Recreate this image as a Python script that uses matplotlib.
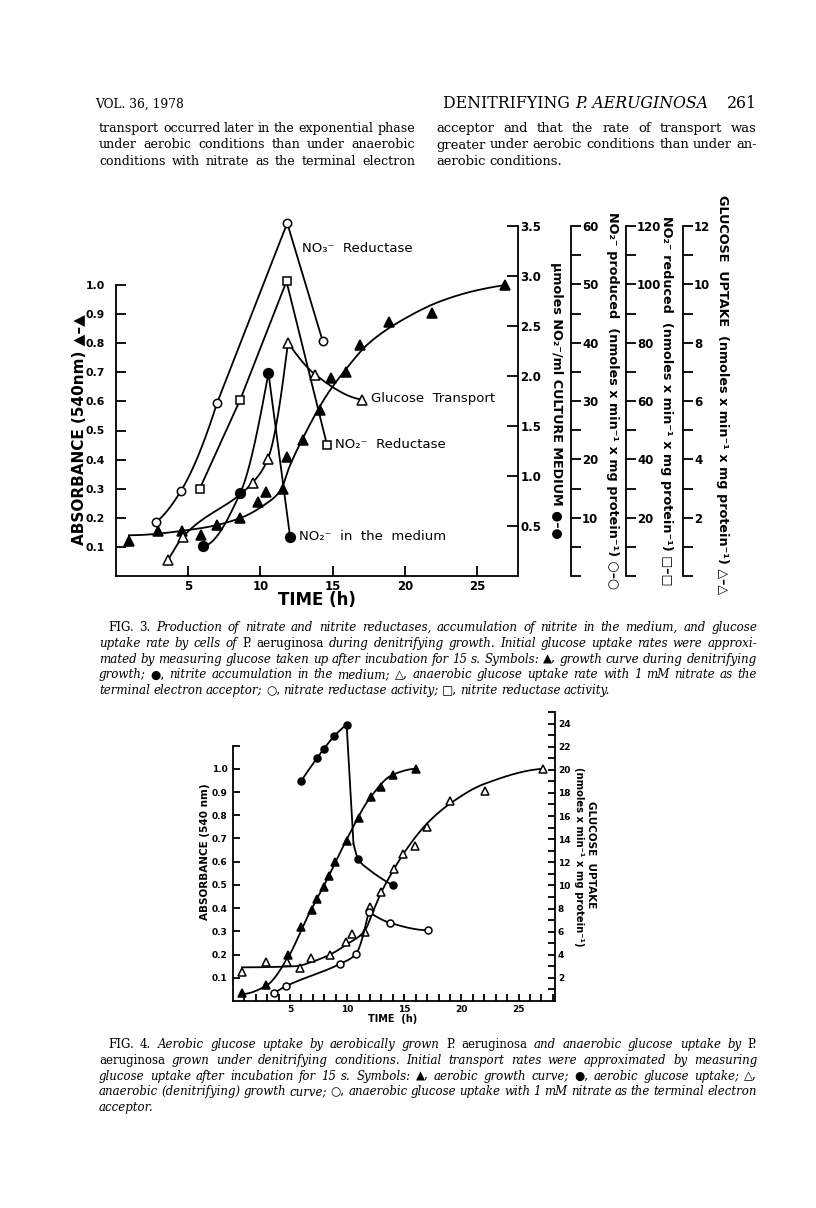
import matplotlib
matplotlib.use('Agg')
import matplotlib.pyplot as plt
import numpy as np

plt.rcParams['font.family'] = ['DejaVu Sans']

# ---------------- data: Fig. 3 ----------------
f3_growth_t = [0.9, 2.9, 4.6, 5.9, 7.0, 8.55, 9.85, 10.4, 11.55, 11.85, 12.95, 14.1, 14.9, 15.95, 16.9, 18.9, 21.9, 26.9]
f3_growth_abs = [0.12, 0.155, 0.155, 0.141, 0.175, 0.20, 0.255, 0.29, 0.30, 0.41, 0.467, 0.57, 0.68, 0.70, 0.795, 0.872, 0.905, 1.0]
f3_growth_fit_t = [0.9, 5.7, 8.5, 10.4, 11.4, 12.0, 13.15, 14.5, 15.9, 17.5, 20.0, 22.5, 25.0, 27.0]
f3_growth_fit_abs = [0.14, 0.163, 0.197, 0.249, 0.295, 0.375, 0.495, 0.615, 0.71, 0.80, 0.885, 0.945, 0.982, 1.0]

f3_no3red_t = [2.8, 4.5, 7.0, 11.85, 14.3]
f3_no3red_v = [9.3, 14.6, 29.7, 60.5, 40.3]          # nmol NO2- produced /min/mg

f3_no2red_t = [5.8, 8.6, 11.8, 14.6]
f3_no2red_v = [30.0, 60.5, 101.0, 45.0]             # nmol NO2- reduced /min/mg

f3_gluc_t = [3.6, 4.65, 9.45, 10.5, 11.9, 13.8, 17.0]
f3_gluc_v = [0.55, 1.35, 3.2, 4.0, 8.0, 6.9, 6.05]  # glucose uptake

f3_no2med_t = [6.0, 8.6, 10.55, 12.05]
f3_no2med_v = [0.30, 0.83, 2.03, 0.39]              # umol NO2-/ml

# ---------------- data: Fig. 4 ----------------
f4_aer_t = [0.8, 2.9, 4.85, 6.0, 6.9, 7.4, 8.0, 8.4, 8.95, 9.95, 11.05, 12.05, 12.95, 14.0, 16.05]
f4_aer_abs = [0.035, 0.067, 0.20, 0.32, 0.39, 0.44, 0.49, 0.54, 0.60, 0.69, 0.79, 0.88, 0.92, 0.975, 1.0]
f4_aer_fit_t = [0.8, 2.9, 4.85, 6.5, 8.0, 10.0, 12.0, 14.0, 16.05]
f4_aer_fit_abs = [0.03, 0.065, 0.19, 0.36, 0.50, 0.70, 0.875, 0.975, 1.0]

f4_aerupt_t = [5.95, 7.35, 7.95, 8.85, 9.95, 10.95, 14.0]
f4_aerupt_v = [19.0, 21.0, 21.8, 22.9, 23.9, 12.3, 10.0]
f4_aerupt_fit_t = [9.95, 10.55, 10.95, 12.0, 13.0, 14.0]
f4_aerupt_fit_v = [23.9, 13.6, 12.3, 11.3, 10.6, 10.0]

f4_ana_t = [0.8, 2.9, 4.7, 5.85, 6.8, 8.5, 9.9, 10.45, 11.55, 12.0, 12.95, 14.1, 14.85, 15.95, 16.95, 19.0, 22.05, 27.15]
f4_ana_abs = [0.125, 0.168, 0.167, 0.143, 0.184, 0.20, 0.254, 0.29, 0.298, 0.405, 0.47, 0.567, 0.634, 0.667, 0.75, 0.86, 0.904, 1.0]
f4_ana_fit_t = [0.8, 5.5, 7.0, 8.5, 10.0, 11.5, 12.3, 13.0, 14.0, 15.0, 17.0, 19.0, 22.0, 27.15]
f4_ana_fit_abs = [0.145, 0.15, 0.17, 0.2, 0.245, 0.30, 0.39, 0.47, 0.56, 0.64, 0.765, 0.85, 0.935, 1.0]

f4_anaupt_t = [3.6, 4.62, 9.37, 10.74, 11.88, 13.74, 17.1]
f4_anaupt_v = [0.7, 1.27, 3.21, 4.04, 7.71, 6.76, 6.12]

# ---------------- helpers ----------------
W, H = 816, 1208
fig = plt.figure(figsize=(W / 100, H / 100), dpi=100)
fig.patch.set_facecolor('white')


def fx(px):
    return px / W


def fy(py):
    return 1 - py / H


def add_ax(l, t, r, b):
    return fig.add_axes([l / W, 1 - b / H, (r - l) / W, (b - t) / H])


def pchip(x, y, n=150):
    x = np.asarray(x, float)
    y = np.asarray(y, float)
    if len(x) == 2:
        xs = np.linspace(x[0], x[1], n)
        return xs, np.interp(xs, x, y)
    h = np.diff(x)
    d = np.diff(y) / h
    m = np.zeros_like(x)
    for k in range(1, len(x) - 1):
        if d[k - 1] * d[k] <= 0:
            m[k] = 0
        else:
            w1 = 2 * h[k] + h[k - 1]
            w2 = h[k] + 2 * h[k - 1]
            m[k] = (w1 + w2) / (w1 / d[k - 1] + w2 / d[k])

    def endslope(h0, h1, d0, d1):
        s = ((2 * h0 + h1) * d0 - h0 * d1) / (h0 + h1)
        if np.sign(s) != np.sign(d0):
            s = 0
        elif np.sign(d0) != np.sign(d1) and abs(s) > abs(3 * d0):
            s = 3 * d0
        return s
    m[0] = endslope(h[0], h[1], d[0], d[1])
    m[-1] = endslope(h[-1], h[-2], d[-1], d[-2])
    xs = np.linspace(x[0], x[-1], n)
    idx = np.clip(np.searchsorted(x, xs) - 1, 0, len(x) - 2)
    t = (xs - x[idx]) / h[idx]
    h00 = 2 * t**3 - 3 * t**2 + 1
    h10 = t**3 - 2 * t**2 + t
    h01 = -2 * t**3 + 3 * t**2
    h11 = t**3 - t**2
    ys = h00 * y[idx] + h10 * h[idx] * m[idx] + h01 * y[idx + 1] + h11 * h[idx] * m[idx + 1]
    return xs, ys


LW = 1.3


def curve(ax, x, y, lw=LW):
    xs, ys = pchip(x, y)
    ax.plot(xs, ys, color='black', lw=lw, clip_on=False, zorder=2)


def straight(ax, x, y, lw=LW):
    ax.plot(x, y, color='black', lw=lw, clip_on=False, zorder=2)


def marks(ax, x, y, marker, filled, ms):
    ax.plot(x, y, linestyle='none', marker=marker, ms=ms,
            mfc='black' if filled else 'white', mec='black', mew=1.1,
            clip_on=False, zorder=3)


def style_twin(axt, pos=None, direction='in', length=7, labelsize=8, pad=2):
    for s in ('top', 'bottom', 'left'):
        axt.spines[s].set_visible(False)
    axt.spines['right'].set_linewidth(LW)
    if pos is not None:
        axt.spines['right'].set_position(('axes', pos))
    axt.yaxis.set_ticks_position('right')
    axt.tick_params(axis='y', which='both', direction=direction, length=length,
                    width=LW, labelsize=labelsize, pad=pad)
    for lab in axt.get_yticklabels():
        lab.set_fontweight('bold')


# ================= Fig. 3 =================
X0_3, XR_3, YT_3, YB_3 = 116, 517.7, 226, 576
ax = add_ax(X0_3, YT_3, XR_3, YB_3)
ax.set_xlim(0, 27.8)
ax.set_ylim(0, 350 / 291)
ax.patch.set_alpha(0)
for s in ('top', 'right'):
    ax.spines[s].set_visible(False)
ax.spines['left'].set_bounds(0, 1.0)
ax.spines['left'].set_linewidth(LW)
ax.spines['bottom'].set_linewidth(LW)
ax.set_xticks([5, 10, 15, 20, 25])
ax.set_xticklabels(['5', '10', '15', '20', '25'], fontsize=8.5, fontweight='bold')
yt = [0.1 * i for i in range(1, 11)]
ax.set_yticks(yt)
ax.set_yticklabels(['%.1f' % v for v in yt], fontsize=7.8, fontweight='bold')
ax.tick_params(axis='x', direction='in', length=7, width=LW, pad=3)
ax.tick_params(axis='y', direction='in', length=7, width=LW, pad=8)

# right axis 0-3.5 (nitrite in medium)
ax_med = ax.twinx()
ax_med.set_ylim(0, 3.5)
ax_med.set_yticks([0.5, 1.0, 1.5, 2.0, 2.5, 3.0, 3.5])
ax_med.set_yticklabels(['0.5', '1.0', '1.5', '2.0', '2.5', '3.0', '3.5'])
style_twin(ax_med, direction='in', length=8, labelsize=8.5, pad=2)

axw = XR_3 - X0_3
# NO2- produced 0-60
ax_prod = ax.twinx()
ax_prod.set_ylim(0, 60)
ax_prod.set_yticks(list(range(0, 61, 10)))
ax_prod.set_yticklabels([''] + [str(v) for v in range(10, 61, 10)])
ax_prod.set_yticks(list(range(5, 60, 10)), minor=True)
style_twin(ax_prod, pos=(571 - X0_3) / axw, direction='out', length=7, labelsize=8.5, pad=1)

# NO2- reduced 0-120
ax_red = ax.twinx()
ax_red.set_ylim(0, 120)
ax_red.set_yticks(list(range(0, 121, 20)))
ax_red.set_yticklabels([''] + [str(v) for v in range(20, 121, 20)])
ax_red.set_yticks(list(range(10, 120, 20)), minor=True)
style_twin(ax_red, pos=(626 - X0_3) / axw, direction='out', length=7, labelsize=8.5, pad=1)

# glucose uptake 0-12
ax_glc = ax.twinx()
ax_glc.set_ylim(0, 12)
ax_glc.set_yticks(list(range(0, 13, 2)))
ax_glc.set_yticklabels([''] + [str(v) for v in range(2, 13, 2)])
ax_glc.set_yticks(list(range(1, 12, 2)), minor=True)
style_twin(ax_glc, pos=(683 - X0_3) / axw, direction='out', length=7, labelsize=8.5, pad=1)

# growth curve
curve(ax, f3_growth_fit_t, f3_growth_fit_abs)
marks(ax, f3_growth_t, f3_growth_abs, '^', True, 7.5)
# nitrate reductase
curve(ax_prod, f3_no3red_t[:3], f3_no3red_v[:3])
straight(ax_prod, f3_no3red_t[2:], f3_no3red_v[2:])
marks(ax_prod, f3_no3red_t, f3_no3red_v, 'o', False, 6)
# nitrite reductase
straight(ax_red, f3_no2red_t, f3_no2red_v)
marks(ax_red, f3_no2red_t, f3_no2red_v, 's', False, 5.5)
# glucose transport
curve(ax_glc, f3_gluc_t[:5], f3_gluc_v[:5])
curve(ax_glc, f3_gluc_t[4:], f3_gluc_v[4:])
marks(ax_glc, f3_gluc_t, f3_gluc_v, '^', False, 6.5)
# nitrite in medium
curve(ax_med, f3_no2med_t[:3], f3_no2med_v[:3])
straight(ax_med, f3_no2med_t[2:], f3_no2med_v[2:])
marks(ax_med, f3_no2med_t, f3_no2med_v, 'o', True, 7)

# annotations
ann = dict(fontsize=9.5, va='center', ha='left', family='DejaVu Sans')
fig.text(fx(302), fy(249), 'NO\u2083\u207b  Reductase', **ann)
fig.text(fx(371), fy(399), 'Glucose  Transport', **ann)
fig.text(fx(335), fy(445), 'NO\u2082\u207b  Reductase', **ann)
fig.text(fx(299), fy(537), 'NO\u2082\u207b  in  the  medium', **ann)

# axis labels
fig.text(fx(317), fy(600), 'TIME (h)', fontsize=12, fontweight='bold', ha='center', va='center')
fig.text(fx(80), fy(430), 'ABSORBANCE (540nm) \u25b2\u2013\u25b2', fontsize=11, fontweight='bold',
         rotation=90, ha='center', va='center')
lab = dict(fontsize=9.2, fontweight='bold', rotation=270, ha='center', va='center')
fig.text(fx(557), fy(400), '\u00b5moles NO\u2082\u207b/ml CULTURE MEDIUM \u25cf\u2013\u25cf', **lab)
fig.text(fx(612), fy(401), 'NO\u2082\u207b produced  (nmoles x min\u207b\u00b9 x mg protein\u207b\u00b9) \u25cb\u2013\u25cb', **lab)
fig.text(fx(667), fy(401), 'NO\u2082\u207b reduced  (nmoles x min\u207b\u00b9 x mg protein\u207b\u00b9) \u25a1\u2013\u25a1', **lab)
fig.text(fx(723), fy(395), 'GLUCOSE  UPTAKE  (nmoles x min\u207b\u00b9 x mg protein\u207b\u00b9) \u25b3\u2013\u25b3', **lab)

# ================= Fig. 4 =================
X0_4, XR_4, YT_4, YB_4 = 232.9, 555.2, 712, 1001
bx = add_ax(X0_4, YT_4, XR_4, YB_4)
bx.set_xlim(0, 28.2)
bx.set_ylim(0, 289 / 232.2)
bx.patch.set_alpha(0)
for s in ('top', 'right'):
    bx.spines[s].set_visible(False)
bx.spines['left'].set_bounds(0, 1.1)
bx.spines['left'].set_linewidth(LW)
bx.spines['bottom'].set_linewidth(LW)
bx.set_xticks([5, 10, 15, 20, 25])
bx.set_xticklabels(['5', '10', '15', '20', '25'], fontsize=6.5, fontweight='bold')
bx.set_xticks([v for v in range(1, 29) if v % 5], minor=True)
yt4 = [0.1 * i for i in range(1, 12)]
bx.set_yticks(yt4)
bx.set_yticklabels(['%.1f' % v for v in yt4[:-1]] + [''], fontsize=6.5, fontweight='bold')
bx.tick_params(axis='x', which='both', direction='in', length=5, width=LW, pad=3)
bx.tick_params(axis='y', direction='in', length=5, width=LW, pad=4)

bx_r = bx.twinx()
bx_r.set_ylim(0, 25)
bx_r.set_yticks(list(range(2, 25, 2)))
bx_r.set_yticklabels([str(v) for v in range(2, 25, 2)])
bx_r.set_yticks(list(range(1, 26, 2)), minor=True)
style_twin(bx_r, direction='in', length=5, labelsize=6.5, pad=2)

curve(bx, f4_aer_fit_t, f4_aer_fit_abs)
marks(bx, f4_aer_t, f4_aer_abs, '^', True, 5.5)
curve(bx, f4_ana_fit_t, f4_ana_fit_abs)
marks(bx, f4_ana_t, f4_ana_abs, '^', False, 5.5)
curve(bx_r, f4_aerupt_t[:5], f4_aerupt_v[:5])
straight(bx_r, f4_aerupt_fit_t[:2], f4_aerupt_fit_v[:2])
curve(bx_r, f4_aerupt_fit_t[1:], f4_aerupt_fit_v[1:])
marks(bx_r, f4_aerupt_t, f4_aerupt_v, 'o', True, 5)
curve(bx_r, f4_anaupt_t[:5], f4_anaupt_v[:5])
curve(bx_r, f4_anaupt_t[4:], f4_anaupt_v[4:])
marks(bx_r, f4_anaupt_t, f4_anaupt_v, 'o', False, 5)

fig.text(fx(393), fy(1019), 'TIME  (h)', fontsize=7, fontweight='bold', ha='center', va='center')
fig.text(fx(205), fy(852), 'ABSORBANCE (540 nm)', fontsize=7.5, fontweight='bold',
         rotation=90, ha='center', va='center')
fig.text(fx(591), fy(855), 'GLUCOSE  UPTAKE', fontsize=7.5,
         fontweight='bold', rotation=270, ha='center', va='center')
fig.text(fx(579), fy(857), '(nmoles x min\u207b\u00b9 x mg protein\u207b\u00b9)', fontsize=7.2,
         fontweight='bold', rotation=270, ha='center', va='center')

# ================= page text =================
renderer = fig.canvas.get_renderer()
SERIF = 'DejaVu Serif'
SYMS = set('\u25b2\u25cf\u25b3\u25cb\u25a1')


def word_props(w, st, size):
    if any(c in SYMS for c in w):
        return dict(family='DejaVu Sans', style='normal', fontsize=size)
    if st == 'i':
        return dict(family=SERIF, style='italic', fontsize=size)
    return dict(family=SERIF, style='normal', fontsize=size)


def text_block(lines, x0_first, x0, x1, ybase0, step, size, last_justified=False):
    """lines: list of segment lists. Justify every line but the last; use one
    common font size for the block (shrunk if any line would overflow)."""
    made = []
    kmin = 1.0
    for i, segs in enumerate(lines):
        words = []
        for txt, st in segs:
            for w in txt.split():
                words.append((w, st))
        xs = x0_first if i == 0 else x0
        y = ybase0 + i * step
        objs = [fig.text(fx(xs), fy(y), w, va='baseline', ha='left', **word_props(w, st, size))
                for w, st in words]
        widths = [t.get_window_extent(renderer).width for t in objs]
        sp = size * 0.28 * 100 / 72
        avail = x1 - xs - sp * (len(objs) - 1)
        kmin = min(kmin, avail / sum(widths))
        made.append((objs, xs))
    for i, (objs, xs) in enumerate(made):
        for t in objs:
            t.set_fontsize(t.get_fontsize() * kmin)
        widths = [t.get_window_extent(renderer).width for t in objs]
        justify = (i < len(made) - 1) or last_justified
        if justify and len(objs) > 1:
            gap = (x1 - xs - sum(widths)) / (len(objs) - 1)
        else:
            gap = size * kmin * 0.28 * 100 / 72
        x = xs
        for t, w in zip(objs, widths):
            t.set_x(fx(x))
            x += w + gap


def fit_pieces(pieces, x0, x1, ybase, size=10):
    objs = [fig.text(fx(x0), fy(ybase), s, va='baseline', ha='left', family=SERIF,
                     style=st, fontsize=size) for s, st in pieces]
    tot = sum(t.get_window_extent(renderer).width for t in objs)
    k = (x1 - x0) / tot
    for t in objs:
        t.set_fontsize(size * k)
    x = x0
    for t in objs:
        t.set_x(fx(x))
        x += t.get_window_extent(renderer).width


# running head
fit_pieces([('VOL. 36, 1978', 'normal')], 95, 184, 108)
fit_pieces([('DENITRIFYING ', 'normal'), ('P. AERUGINOSA', 'italic')], 443, 706, 108)
fit_pieces([('261', 'normal')], 727, 757, 108)

body_left = [[('transport occurred later in the exponential phase', 'r')],
             [('under aerobic conditions than under anaerobic', 'r')],
             [('conditions with nitrate as the terminal electron', 'r')]]
body_right = [[('acceptor and that the rate of transport was', 'r')],
              [('greater under aerobic conditions than under an-', 'r')],
              [('aerobic conditions.', 'r')]]
text_block(body_left, 99, 99, 415, 132, 16.5, 9.5, last_justified=True)
text_block(body_right, 436, 436, 757, 132, 16.5, 9.5)

cap3 = [
    [('FIG. 3.', 'r'), ('Production of nitrate and nitrite reductases, accumulation of nitrite in the medium, and glucose', 'i')],
    [('uptake rate by cells of', 'i'), ('P. aeruginosa', 'r'), ('during denitrifying growth. Initial glucose uptake rates were approxi-', 'i')],
    [('mated by measuring glucose taken up after incubation for 15 s. Symbols:', 'i'), ('\u25b2,', 's'), ('growth curve during denitrifying', 'i')],
    [('growth;', 'i'), ('\u25cf,', 's'), ('nitrite accumulation in the medium;', 'i'), ('\u25b3,', 's'), ('anaerobic glucose uptake rate with 1 mM nitrate as the', 'i')],
    [('terminal electron acceptor;', 'i'), ('\u25cb,', 's'), ('nitrate reductase activity;', 'i'), ('\u25a1,', 's'), ('nitrite reductase activity.', 'i')],
]
cap4 = [
    [('FIG. 4.', 'r'), ('Aerobic glucose uptake by aerobically grown', 'i'), ('P. aeruginosa', 'r'), ('and anaerobic glucose uptake by', 'i'), ('P.', 'r')],
    [('aeruginosa', 'r'), ('grown under denitrifying conditions. Initial transport rates were approximated by measuring', 'i')],
    [('glucose uptake after incubation for 15 s. Symbols:', 'i'), ('\u25b2,', 's'), ('aerobic growth curve;', 'i'), ('\u25cf,', 's'), ('aerobic glucose uptake;', 'i'), ('\u25b3,', 's')],
    [('anaerobic (denitrifying) growth curve;', 'i'), ('\u25cb,', 's'), ('anaerobic glucose uptake with 1 mM nitrate as the terminal electron', 'i')],
    [('acceptor.', 'i')],
]
text_block(cap3, 108, 99, 757, 631, 15.8, 9.3)
text_block(cap4, 108, 99, 757, 1048, 15.8, 9.3)

fig.savefig('out.png', dpi=100, facecolor='white')
